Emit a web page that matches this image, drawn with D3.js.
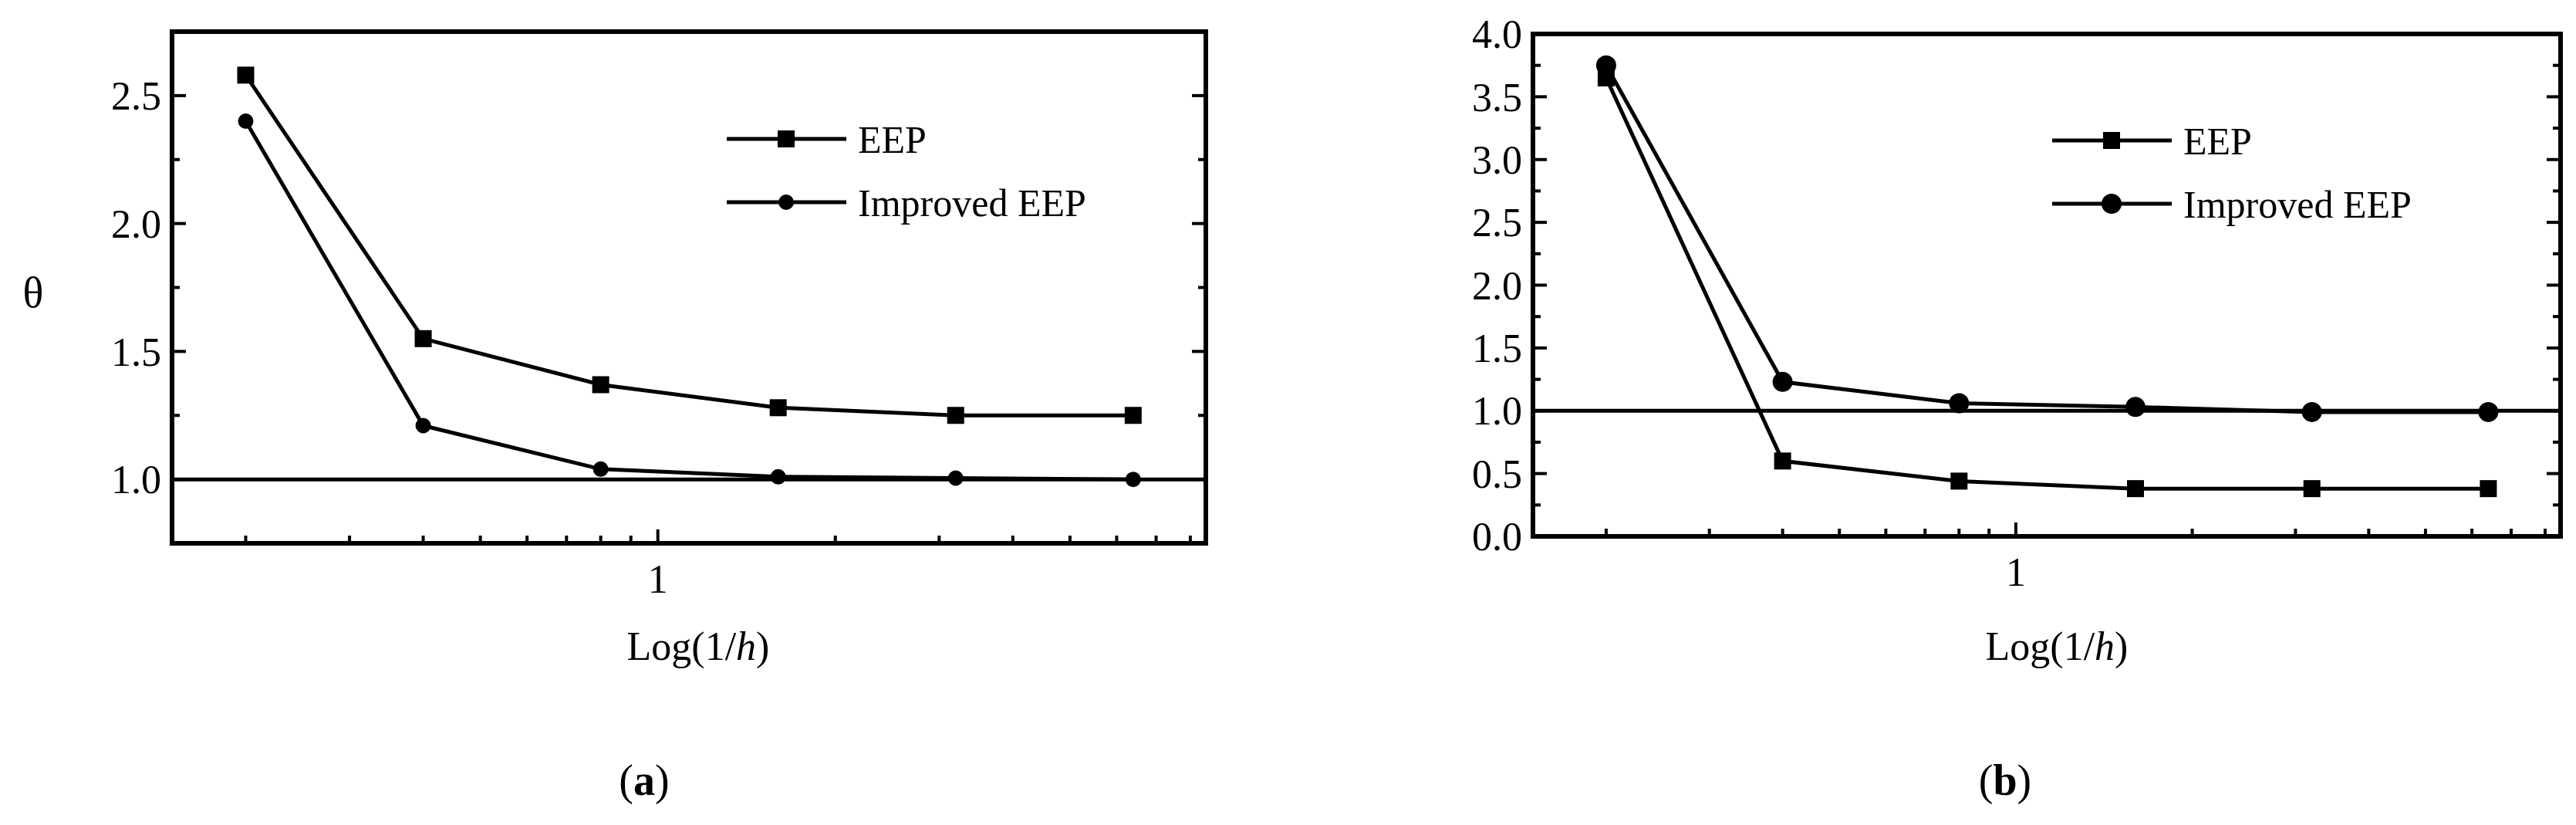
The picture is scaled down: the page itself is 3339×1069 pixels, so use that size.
<!DOCTYPE html>
<html><head><meta charset="utf-8">
<script src="https://cdn.jsdelivr.net/npm/d3@7"></script>
<style>body{margin:0;background:#fff}svg{display:block}text{font-family:"Liberation Serif","Times New Roman",serif;fill:#000}</style>
</head><body>
<script>
/* DATA */
var xVals = [0.2, 0.4, 0.8, 1.6, 3.2, 6.4];
var seriesNames = ['EEP', 'Improved EEP'];
var eepA = [2.58, 1.55, 1.37, 1.28, 1.25, 1.25];
var impA = [2.40, 1.21, 1.04, 1.01, 1.005, 1.0];
var eepB = [3.65, 0.60, 0.44, 0.38, 0.38, 0.38];
var impB = [3.75, 1.23, 1.06, 1.03, 0.99, 0.99];
var yTicksA = [1.0, 1.5, 2.0, 2.5];
var yTicksB = [0, 0.5, 1, 1.5, 2, 2.5, 3, 3.5, 4];

var W = 3339, H = 1069;
var svg = d3.select('body').append('svg').attr('width', W).attr('height', H);

function panel(o){
  var x = d3.scaleLog().domain([0.15, 8.5]).range([o.x0, o.x1]);
  var y = d3.scaleLinear().domain(o.ydom).range([o.y1, o.y0]);
  var g = svg.append('g');
  // minor + major ticks
  var minor = d3.range(o.ydom[0], o.ydom[1] + 1e-9, o.minorStep);
  minor.forEach(function(v){
    var major = o.yTicks.some(function(t){ return Math.abs(t - v) < 1e-6; });
    var len = major ? 18 : 10;
    g.append('line').attr('x1', o.x0).attr('x2', o.x0 + len).attr('y1', y(v)).attr('y2', y(v)).attr('stroke', '#000').attr('stroke-width', 4);
    g.append('line').attr('x1', o.x1).attr('x2', o.x1 - len).attr('y1', y(v)).attr('y2', y(v)).attr('stroke', '#000').attr('stroke-width', 4);
  });
  o.yTicks.forEach(function(v){
    g.append('text').attr('x', o.x0 - 14).attr('y', y(v)).attr('dy', '0.35em').attr('text-anchor', 'end')
      .attr('font-size', 52).text(d3.format('.1f')(v));
  });
  x.ticks().forEach(function(v){
    var len = Math.abs(v - 1) < 1e-9 ? 18 : 10;
    g.append('line').attr('x1', x(v)).attr('x2', x(v)).attr('y1', o.y1).attr('y2', o.y1 - len).attr('stroke', '#000').attr('stroke-width', 4);
  });
  g.append('text').attr('x', x(1)).attr('y', o.y1 + 64).attr('text-anchor', 'middle').attr('font-size', 52).text('1');
  var t = g.append('text').attr('x', (o.x0 + o.x1) / 2 + o.titleShift).attr('y', 855).attr('text-anchor', 'middle').attr('font-size', 52);
  t.append('tspan').text('Log(1/');
  t.append('tspan').attr('font-style', 'italic').text('h');
  t.append('tspan').text(')');
  var c = g.append('text').attr('x', o.capX).attr('y', 1030).attr('text-anchor', 'middle').attr('font-size', 56);
  c.append('tspan').text('(');
  c.append('tspan').attr('font-weight', 'bold').text(o.cap);
  c.append('tspan').text(')');
  // reference line at 1
  g.append('line').attr('x1', o.x0).attr('x2', o.x1).attr('y1', y(1)).attr('y2', y(1)).attr('stroke', '#000').attr('stroke-width', 5);
  var line = d3.line().x(function(d, i){ return x(xVals[i]); }).y(function(d){ return y(d); });
  [o.eep, o.imp].forEach(function(s, k){
    g.append('path').attr('d', line(s)).attr('fill', 'none').attr('stroke', '#000').attr('stroke-width', 5);
    s.forEach(function(v, i){
      if (k === 0) g.append('rect').attr('x', x(xVals[i]) - 11).attr('y', y(v) - 11).attr('width', 22).attr('height', 22);
      else g.append('circle').attr('cx', x(xVals[i])).attr('cy', y(v)).attr('r', o.r);
    });
  });
  // legend
  seriesNames.forEach(function(n, k){
    var ly = o.legY[k];
    g.append('line').attr('x1', o.legX).attr('x2', o.legX + 155).attr('y1', ly).attr('y2', ly).attr('stroke', '#000').attr('stroke-width', 5);
    if (k === 0) g.append('rect').attr('x', o.legX + 66).attr('y', ly - 11).attr('width', 22).attr('height', 22);
    else g.append('circle').attr('cx', o.legX + 77).attr('cy', ly).attr('r', o.r);
    g.append('text').attr('x', o.legX + 170).attr('y', ly).attr('dy', '0.35em').attr('font-size', 50).text(n);
  });
  g.append('rect').attr('x', o.x0).attr('y', o.y0).attr('width', o.x1 - o.x0).attr('height', o.y1 - o.y0)
    .attr('fill', 'none').attr('stroke', '#000').attr('stroke-width', 6);
  return g;
}

panel({x0: 223, x1: 1563, y0: 41, y1: 704, ydom: [0.75, 2.75], yTicks: yTicksA, minorStep: 0.25,
  eep: eepA, imp: impA, legX: 942, legY: [180, 262], r: 10, cap: 'a', capX: 835, titleShift: 12});
panel({x0: 1987, x1: 3319, y0: 44, y1: 695, ydom: [0, 4], yTicks: yTicksB, minorStep: 0.25,
  eep: eepB, imp: impB, legX: 2660, legY: [182, 264], r: 13, cap: 'b', capX: 2599, titleShift: 13});

svg.append('text').attr('x', 43).attr('y', 378).attr('dy', '0.35em').attr('text-anchor', 'middle').attr('font-size', 56).text('θ');
</script>
</body></html>
